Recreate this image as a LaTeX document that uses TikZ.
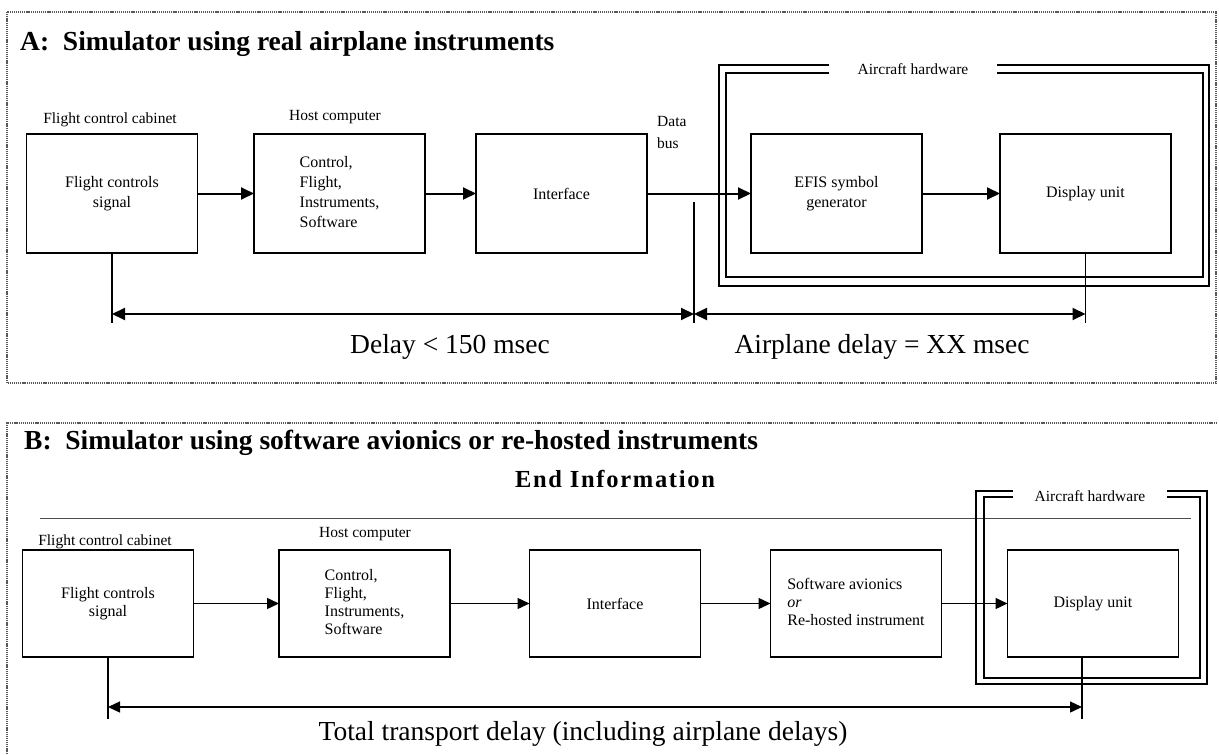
\documentclass[tikz,border=0pt]{standalone}
\usepackage{fontspec}
\setmainfont{Liberation Serif}
\usetikzlibrary{arrows.meta,calc}
\begin{document}
\begin{tikzpicture}[x=1pt,y=-1pt,
  box/.style={draw, line width=1.3pt, minimum width=171pt, inner sep=0pt, outer sep=0pt,
    font=\fontsize{16}{20}\selectfont, align=center},
  boxb/.style={box, font=\fontsize{16}{18}\selectfont},
  lbl/.style={font=\fontsize{15.5}{18}\selectfont, inner sep=0pt, anchor=base},
  big/.style={font=\fontsize{27.5}{30}\selectfont, inner sep=0pt, anchor=base},
  ttl/.style={font=\fontsize{27.5}{30}\selectfont\bfseries, inner sep=0pt, anchor=base west},
  panel/.style={draw=black!65, line width=1.2pt, dash pattern=on 1.2pt off 0.9pt},
  arrA/.style={line width=2pt, -{Triangle[length=13pt,width=12pt]}},
  arrB/.style={line width=1.4pt, -{Triangle[length=12pt,width=11pt]}},
  dimA/.style={line width=2pt, {Triangle[length=13pt,width=12pt]}-{Triangle[length=13pt,width=12pt]}},
  dimB/.style={line width=1.4pt, {Triangle[length=12pt,width=11pt]}-{Triangle[length=12pt,width=11pt]}},
  tick/.style={line width=1.3pt},
  frameo/.style={line width=1.7pt},
  framei/.style={line width=1.3pt}
]
\useasboundingbox (0,0) rectangle (1219,755);

% ---------------- Panel A ----------------
\draw[panel] (7,12) rectangle (1216,383);
\node[ttl] (tA) at (20,50) {A:\ \ Simulator using real airplane instruments};

\node[lbl] (lcabA) at (110,123) {Flight control cabinet};
\node[lbl] (lhostA) at (335,120) {Host computer};

\node[box, minimum height=119pt] (a1) at (112,193.5) {Flight controls\\signal};
\node[box, minimum height=119pt] (a2) at (339.5,193.5) {\begin{tabular}{@{}l@{}}Control,\\Flight,\\Instruments,\\Software\end{tabular}};
\node[box, minimum height=119pt] (a3) at (561.5,193.5) {Interface};
\node[box, minimum height=119pt] (a4) at (836.5,193.5) {EFIS symbol\\generator};
\node[box, minimum height=119pt] (a5) at (1085.5,193.5) {Display unit};

\node[lbl, anchor=north west, align=left, font=\fontsize{15.5}{22}\selectfont] (dbus) at (657,116) {Data\\bus};

% aircraft hardware frame
\node[lbl, anchor=center, minimum width=168pt, minimum height=16pt] (hwA) at (913,69) {Aircraft hardware};
\draw[frameo] (hwA.west |- 0,65) -- (719,65) -- (719,286) -- (1209,286) -- (1209,65) -- (hwA.east |- 0,65);
\draw[framei] (hwA.west |- 0,73) -- (726,73) -- (726,277) -- (1203,277) -- (1203,73) -- (hwA.east |- 0,73);

\draw[arrA] (a1.east) -- (a2.west);
\draw[arrA] (a2.east) -- (a3.west);
\draw[arrA] (a3.east) -- (a4.west);
\draw[arrA] (a4.east) -- (a5.west);

\coordinate (dbt) at (694,202);
\coordinate (dbb) at (694,323);
\coordinate (a1b) at (a1.south |- 0,323);
\coordinate (a5b) at (a5.south |- 0,323);
\draw[tick] (a1.south) -- (a1b);
\draw[tick] (a5.south) -- (a5b);
\draw[tick] (dbt) -- (dbb);
\draw[dimA] (a1.south |- 0,314) -- (dbt |- 0,314);
\draw[dimA] (dbt |- 0,314) -- (a5.south |- 0,314);

\node[big] (dlA) at (450,353) {Delay < 150 msec};
\node[big] (dlB) at (882,353) {Airplane delay = XX msec};

% ---------------- Panel B ----------------
\draw[panel] (7,760) -- (7,423) -- (1216,423);
\node[ttl] (tB) at (24,449) {B:\ \ Simulator using software avionics or re-hosted instruments};
\node[font=\fontsize{24.5}{26}\selectfont\bfseries\addfontfeature{LetterSpace=7}, inner sep=0pt, anchor=base] (endi) at (615,487) {End Information};
\draw[line width=0.9pt, black!70] (40,518) -- (1191,518);

\node[lbl] (lcabB) at (105,545) {Flight control cabinet};
\node[lbl] (lhostB) at (365,537) {Host computer};

\node[boxb, minimum height=107pt] (b1) at (108,603.5) {Flight controls\\signal};
\node[boxb, minimum height=107pt] (b2) at (364.5,603.5) {\begin{tabular}{@{}l@{}}Control,\\Flight,\\Instruments,\\Software\end{tabular}};
\node[boxb, minimum height=107pt] (b3) at (615,603.5) {Interface};
\node[boxb, minimum height=107pt] (b4) at (856,603.5) {\begin{tabular}{@{}l@{}}Software avionics\\\textit{or}\\Re-hosted instrument\end{tabular}};
\node[boxb, minimum height=107pt] (b5) at (1093,603.5) {Display unit};

\node[lbl, anchor=center, minimum width=154pt, minimum height=16pt] (hwB) at (1090,496) {Aircraft hardware};
\draw[frameo] (hwB.west |- 0,491) -- (976,491) -- (976,684) -- (1207,684) -- (1207,491) -- (hwB.east |- 0,491);
\draw[framei] (hwB.west |- 0,497) -- (984,497) -- (984,678) -- (1200,678) -- (1200,497) -- (hwB.east |- 0,497);

\draw[arrB] (b1.east) -- (b2.west);
\draw[arrB] (b2.east) -- (b3.west);
\draw[arrB] (b3.east) -- (b4.west);
\draw[arrB] (b4.east) -- (b5.west);

\coordinate (b1s) at (b1.south);
\coordinate (b5s) at ($(b5.south)+(-11,0)$);
\coordinate (b1b) at (b1s |- 0,719);
\coordinate (b5b) at (b5s |- 0,719);
\draw[tick] (b1s) -- (b1b);
\draw[tick] (b5s) -- (b5b);
\draw[dimB] (b1s |- 0,707) -- (b5s |- 0,707);

\node[big] (tot) at (583,740) {Total transport delay (including airplane delays)};
\end{tikzpicture}
\end{document}
